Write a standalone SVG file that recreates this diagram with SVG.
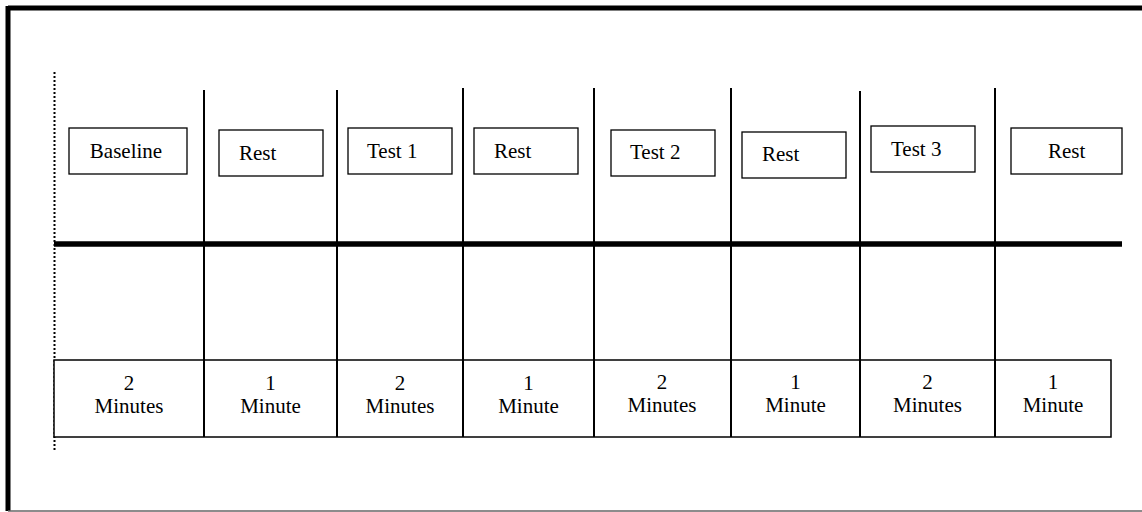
<svg xmlns="http://www.w3.org/2000/svg" width="1142" height="512" viewBox="0 0 1142 512">
<style>
.lbl{font-family:"Liberation Serif","Times New Roman",serif;font-size:21px;fill:#000}
.box{fill:#fff;stroke:#000;stroke-width:1.3}
.div{stroke:#000;stroke-width:2}
.cell{fill:#fff;stroke:#000;stroke-width:1.5}
</style>
<rect width="1142" height="512" fill="#fff"/>
<g id="frame">
<line x1="8" y1="8" x2="1142" y2="8" stroke="#000" stroke-width="5"/>
<line x1="8" y1="6" x2="8" y2="511" stroke="#000" stroke-width="5"/>
<line x1="8" y1="511" x2="1142" y2="511" stroke="#666" stroke-width="1.5"/>
</g>
<g id="connectors">
<line x1="54.5" y1="72" x2="54.5" y2="452" stroke="#000" stroke-width="2" stroke-dasharray="2,2"/>
<line x1="54" y1="244" x2="1122" y2="244" stroke="#000" stroke-width="5.5"/>
<line class="div" x1="204" y1="90" x2="204" y2="437"/>
<line class="div" x1="337" y1="90" x2="337" y2="437"/>
<line class="div" x1="463" y1="88" x2="463" y2="437"/>
<line class="div" x1="594" y1="88" x2="594" y2="437"/>
<line class="div" x1="731" y1="88" x2="731" y2="437"/>
<line class="div" x1="860" y1="91" x2="860" y2="437"/>
<line class="div" x1="995" y1="88" x2="995" y2="437"/>
</g>
<g id="timeline">
<rect class="cell" x="54" y="360" width="1057" height="77"/>
<line class="div" x1="204" y1="360" x2="204" y2="437"/>
<line class="div" x1="337" y1="360" x2="337" y2="437"/>
<line class="div" x1="463" y1="360" x2="463" y2="437"/>
<line class="div" x1="594" y1="360" x2="594" y2="437"/>
<line class="div" x1="731" y1="360" x2="731" y2="437"/>
<line class="div" x1="860" y1="360" x2="860" y2="437"/>
<line class="div" x1="995" y1="360" x2="995" y2="437"/>
</g>
<g id="baseline"><rect class="box" x="69" y="128" width="118" height="46"/><text class="lbl" x="126" y="158" text-anchor="middle">Baseline</text></g>
<g id="rest1"><rect class="box" x="219" y="130" width="104" height="46"/><text class="lbl" x="239" y="160">Rest</text></g>
<g id="test1"><rect class="box" x="348" y="128" width="104" height="46"/><text class="lbl" x="367" y="158">Test 1</text></g>
<g id="rest2"><rect class="box" x="474" y="128" width="104" height="46"/><text class="lbl" x="494" y="158">Rest</text></g>
<g id="test2"><rect class="box" x="611" y="130" width="104" height="46"/><text class="lbl" x="630" y="159">Test 2</text></g>
<g id="rest3"><rect class="box" x="742" y="132" width="104" height="46"/><text class="lbl" x="762" y="161">Rest</text></g>
<g id="test3"><rect class="box" x="871" y="126" width="104" height="46"/><text class="lbl" x="891" y="156">Test 3</text></g>
<g id="rest4"><rect class="box" x="1011" y="128" width="111" height="46"/><text class="lbl" x="1048" y="158">Rest</text></g>
<g id="dur1"><text class="lbl" x="129" y="390" text-anchor="middle">2</text><text class="lbl" x="129" y="413" text-anchor="middle">Minutes</text></g>
<g id="dur2"><text class="lbl" x="270.5" y="390" text-anchor="middle">1</text><text class="lbl" x="270.5" y="413" text-anchor="middle">Minute</text></g>
<g id="dur3"><text class="lbl" x="400" y="390" text-anchor="middle">2</text><text class="lbl" x="400" y="413" text-anchor="middle">Minutes</text></g>
<g id="dur4"><text class="lbl" x="528.5" y="390" text-anchor="middle">1</text><text class="lbl" x="528.5" y="413" text-anchor="middle">Minute</text></g>
<g id="dur5"><text class="lbl" x="662" y="389" text-anchor="middle">2</text><text class="lbl" x="662" y="412" text-anchor="middle">Minutes</text></g>
<g id="dur6"><text class="lbl" x="795.5" y="389" text-anchor="middle">1</text><text class="lbl" x="795.5" y="412" text-anchor="middle">Minute</text></g>
<g id="dur7"><text class="lbl" x="927.5" y="389" text-anchor="middle">2</text><text class="lbl" x="927.5" y="412" text-anchor="middle">Minutes</text></g>
<g id="dur8"><text class="lbl" x="1053" y="389" text-anchor="middle">1</text><text class="lbl" x="1053" y="412" text-anchor="middle">Minute</text></g>
</svg>
